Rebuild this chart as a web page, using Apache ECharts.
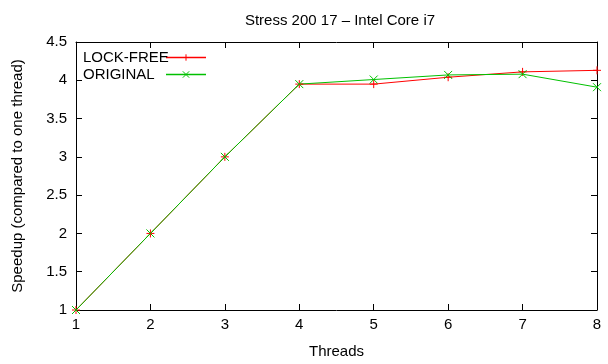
<!DOCTYPE html>
<html><head><meta charset="utf-8">
<script src="https://cdn.jsdelivr.net/npm/echarts@6/dist/echarts.min.js"></script>
<style>html,body{margin:0;padding:0;background:#fff}#c{width:608px;height:364px}</style>
</head><body><div id="c"></div>
<script>
const threads = [1, 2, 3, 4, 5, 6, 7, 8];
const lockFree = [1, 2, 3, 3.95, 3.95, 4.04, 4.11, 4.13];
const original = [1, 2, 3, 3.95, 4.01, 4.07, 4.08, 3.91];
const seriesNames = ['LOCK-FREE', 'ORIGINAL'];
const seriesColors = ['#ff0000', '#00c000'];
const titleText = 'Stress 200 17 \u2013 Intel Core i7';

const font = 'Liberation Sans';
const fs = 15;
const chart = echarts.init(document.getElementById('c'));
const plus = 'path://M1,0L1,2M0,1L2,1';
const cross = 'path://M0,0L2,2M0,2L2,0';
const axisCommon = {
  type: 'value',
  axisLine: {show: true, lineStyle: {color: '#000', width: 1}},
  axisTick: {show: true, inside: true, length: 6, lineStyle: {color: '#000'}},
  splitLine: {show: false}
};
chart.setOption({
  animation: false,
  textStyle: {fontFamily: font},
  title: {text: titleText, left: 335, top: 8, textAlign: 'center',
    textStyle: {fontFamily: font, fontSize: fs, fontWeight: 'normal', color: '#000'}},
  grid: {left: 76, right: 11, top: 42, bottom: 53},
  legend: {
    orient: 'vertical', left: 78, top: 45, padding: 5, align: 'right', itemGap: 2,
    itemWidth: 40, itemHeight: 8,
    formatter: name => '{a|' + name + '}',
    textStyle: {fontFamily: font, fontSize: fs, color: '#000',
      rich: {a: {fontFamily: font, fontSize: fs, color: '#000', width: 78, align: 'left', lineHeight: 18}}},
    data: seriesNames.map((n, i) => ({
      name: n,
      lineStyle: {color: seriesColors[i], width: 1.5},
      itemStyle: {color: seriesColors[i], borderColor: seriesColors[i], borderWidth: 1}
    }))
  },
  xAxis: [
    Object.assign({}, axisCommon, {min: 1, max: 8, interval: 1, position: 'bottom',
      name: 'Threads', nameLocation: 'middle', nameGap: 34,
      nameTextStyle: {fontFamily: font, fontSize: fs, color: '#000'},
      axisLabel: {fontFamily: font, fontSize: fs, color: '#000', margin: 7}}),
    Object.assign({}, axisCommon, {min: 1, max: 8, interval: 1, position: 'top',
      axisLabel: {show: false}})
  ],
  yAxis: [
    Object.assign({}, axisCommon, {min: 1, max: 4.5, interval: 0.5, position: 'left',
      name: 'Speedup (compared to one thread)', nameLocation: 'middle', nameGap: 51,
      nameTextStyle: {fontFamily: font, fontSize: fs, color: '#000'},
      axisLabel: {fontFamily: font, fontSize: fs, color: '#000', margin: 9}}),
    Object.assign({}, axisCommon, {min: 1, max: 4.5, interval: 0.5, position: 'right',
      axisLabel: {show: false}})
  ],
  series: [
    {name: seriesNames[0], type: 'line', data: threads.map((t, i) => [t, lockFree[i]]),
      symbol: plus, symbolSize: 8, showAllSymbol: true, color: seriesColors[0],
      lineStyle: {color: seriesColors[0], width: 1},
      itemStyle: {color: seriesColors[0], borderColor: seriesColors[0], borderWidth: 1}},
    {name: seriesNames[1], type: 'line', data: threads.map((t, i) => [t, original[i]]),
      symbol: cross, symbolSize: 8, showAllSymbol: true, color: seriesColors[1],
      lineStyle: {color: seriesColors[1], width: 1},
      itemStyle: {color: seriesColors[1], borderColor: seriesColors[1], borderWidth: 1}}
  ]
});
</script></body></html>
